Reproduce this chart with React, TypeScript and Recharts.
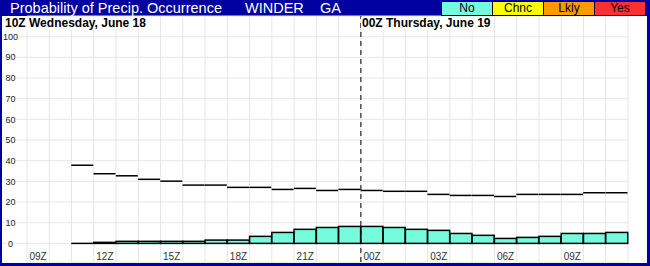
import { BarChart, Bar, XAxis, YAxis, CartesianGrid, ReferenceLine } from "recharts";

const hours = [
  "09Z", "10Z", "11Z", "12Z", "13Z", "14Z", "15Z", "16Z", "17Z", "18Z", "19Z", "20Z", "21Z", "22Z",
  "23Z", "00Z", "01Z", "02Z", "03Z", "04Z", "05Z", "06Z", "07Z", "08Z", "09Z", "10Z", "11Z",
];
// hourly probability (bars)
const popPct = [
  null, null, 0, 0.5, 1, 1, 1, 1, 1.6, 1.6, 3.4, 5.3, 6.8, 7.7,
  8.2, 8.2, 7.7, 6.8, 6.3, 4.8, 3.9, 2.4, 2.9, 3.4, 4.8, 4.8, 5.3,
];
// step line above the bars
const stepPct = [
  null, null, 37.8, 33.7, 32.7, 31, 30.1, 28.2, 28.2, 27.1, 27.1, 26.1, 26.6, 25.6,
  26.1, 25.6, 25.2, 25.2, 23.7, 23.2, 23.2, 22.7, 23.7, 23.7, 23.7, 24.5, 24.5,
];
const yTicks = [0, 10, 20, 30, 40, 50, 60, 70, 80, 90, 100];
const legendLabels = ["No", "Chnc", "Lkly", "Yes"];
const dayBreak = "00Z";

const data = hours.map((hour, i) => ({ idx: i, hour, pop: popPct[i], step: stepPct[i] }));
const dayBreakIdx = hours.indexOf(dayBreak);

const FONT = "'Liberation Sans', Arial, sans-serif";
const BLUE = "#0000a0";
const GRID = "#e6e6e6";
const legendColors = ["#74fbdb", "#ffff00", "#ff9900", "#ff3030"];

const BoxShape = (p: any) => {
  if (p.payload?.pop == null) return null;
  return (
    <rect x={p.x} y={p.y} width={p.width} height={Math.max(p.height, 0)}
      fill="#74fbdb" stroke="#000" strokeWidth={1.5} />
  );
};

// step segment; also draws the flat 0 box where the bar itself has no height
const StepShape = (p: any) => {
  if (p.payload?.step == null) return null;
  const base = p.y + p.height;
  return (
    <g>
      {p.payload.pop === 0 && (
        <line x1={p.x} x2={p.x + p.width} y1={base} y2={base} stroke="#000" strokeWidth={1.5} />
      )}
      <line x1={p.x} x2={p.x + p.width} y1={p.y} y2={p.y} stroke="#000" strokeWidth={1.5} />
    </g>
  );
};

const LeftTick = ({ x, y, payload }: any) => {
  const s = String(payload.value);
  const w = s.length * 5 + 2;
  const cx = x - 16.5;
  return (
    <g>
      <line x1={2} x2={x} y1={y} y2={y} stroke={GRID} />
      <rect x={cx - w / 2} y={y - 5} width={w} height={10} fill="#fff" />
      <text x={cx} y={y} dy="0.35em" textAnchor="middle" fontSize={9} fill="#222" fontFamily={FONT}>{s}</text>
    </g>
  );
};

const RightTick = ({ x, y, payload }: any) => (
  <text x={x + 8.5} y={y} dy="0.35em" textAnchor="middle" fontSize={9} fill="#222" fontFamily={FONT}>
    {payload.value}
  </text>
);

const HourTick = ({ x, y, payload }: any) => (
  <text x={x} y={y - 2} textAnchor="middle" fontSize={10} fill="#333" fontFamily={FONT}>
    {hours[payload.value]}
  </text>
);

// vertical grid on the band edges (no band padding), not band centres
const bandEdges = ({ offset }: any) => {
  const n = hours.length;
  return Array.from({ length: n + 1 }, (_, i) => offset.left + (i * offset.width) / n);
};

export default function App() {
  return (
    <div style={{ position: "absolute", left: 0, top: 0, width: 650, height: 266, background: BLUE, fontFamily: FONT }}>
      <div style={{ position: "absolute", left: 2, top: 16, width: 645, height: 247, background: "#fff" }} />
      <div style={{ position: "absolute", left: 0, top: 0 }}>
        <BarChart width={650} height={266} data={data} margin={{ top: 16, right: 0, bottom: 0, left: 0 }}
          barCategoryGap={0} barGap="-100%">
          <CartesianGrid stroke={GRID} verticalCoordinatesGenerator={bandEdges} />
          <XAxis dataKey="idx" height={4} interval={2} tickLine={false} axisLine={false}
            tickSize={0} tickMargin={0} tick={<HourTick />} />
          <YAxis domain={[-9, 110]} ticks={yTicks} interval={0} width={27} tickLine={false} axisLine={false}
            tickSize={0} tickMargin={0} tick={<LeftTick />} />
          <YAxis yAxisId="r" orientation="right" domain={[-9, 110]} ticks={yTicks} interval={0} width={22}
            tickLine={false} axisLine={false} tickSize={0} tickMargin={0} tick={<RightTick />} />
          <ReferenceLine x={dayBreakIdx} position="start" stroke="#000" strokeDasharray="5 4"
            segment={[{ x: dayBreakIdx, y: 0 }, { x: dayBreakIdx, y: 110 }]} />
          <Bar dataKey="pop" shape={<BoxShape />} isAnimationActive={false} />
          <Bar dataKey="step" shape={<StepShape />} isAnimationActive={false} />
        </BarChart>
      </div>
      <div style={{ position: "absolute", left: 10, top: 0, height: 16, lineHeight: "16px", color: "#fff", fontSize: 14.5, whiteSpace: "nowrap" }}>
        Probability of Precip. Occurrence
      </div>
      <div style={{ position: "absolute", left: 245, top: 0, height: 16, lineHeight: "16px", color: "#fff", fontSize: 14.5 }}>WINDER</div>
      <div style={{ position: "absolute", left: 320, top: 0, height: 16, lineHeight: "16px", color: "#fff", fontSize: 14.5 }}>GA</div>
      <div style={{ position: "absolute", left: 441, top: 1, display: "flex", border: "1px solid #000" }}>
        {legendLabels.map((l, i) => (
          <div key={l} style={{ width: 50, height: 13, lineHeight: "13px", fontSize: 12, textAlign: "center",
            background: legendColors[i], borderLeft: i ? "1px solid #000" : "none", color: "#000" }}>{l}</div>
        ))}
      </div>
      <div style={{ position: "absolute", left: 4, top: 17, fontSize: 12, fontWeight: "bold", lineHeight: "13px", background: "#fff", padding: "0 1px", whiteSpace: "nowrap" }}>
        10Z Wednesday, June 18
      </div>
      <div style={{ position: "absolute", left: 361, top: 17, fontSize: 12, fontWeight: "bold", lineHeight: "13px", background: "#fff", padding: "0 1px", whiteSpace: "nowrap" }}>
        00Z Thursday, June 19
      </div>
    </div>
  );
}
